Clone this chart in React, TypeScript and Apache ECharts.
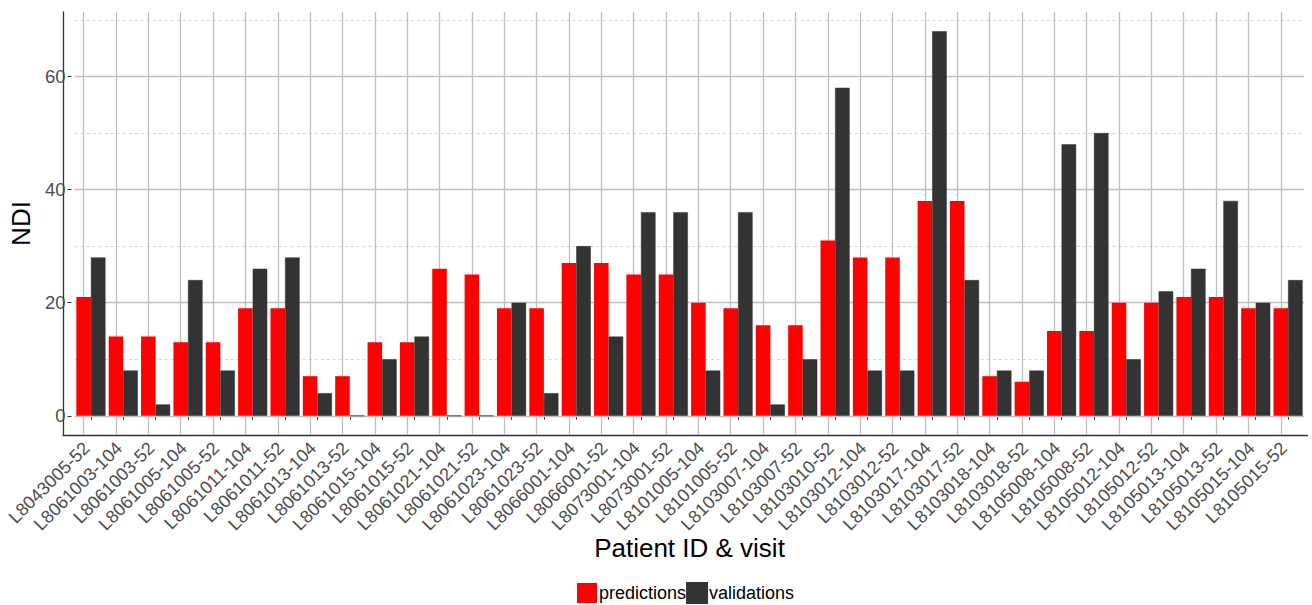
import React, { useEffect, useRef } from "react";
import * as echarts from "echarts";

const categories = [
  "L8043005-52", "L8061003-104", "L8061003-52", "L8061005-104", "L8061005-52",
  "L8061011-104", "L8061011-52", "L8061013-104", "L8061013-52", "L8061015-104",
  "L8061015-52", "L8061021-104", "L8061021-52", "L8061023-104", "L8061023-52",
  "L8066001-104", "L8066001-52", "L8073001-104", "L8073001-52", "L8101005-104",
  "L8101005-52", "L8103007-104", "L8103007-52", "L8103010-52", "L8103012-104",
  "L8103012-52", "L8103017-104", "L8103017-52", "L8103018-104", "L8103018-52",
  "L8105008-104", "L8105008-52", "L8105012-104", "L8105012-52", "L8105013-104",
  "L8105013-52", "L8105015-104", "L8105015-52",
];

const predictions = [
  21, 14, 14, 13, 13, 19, 19, 7, 7, 13,
  13, 26, 25, 19, 19, 27, 27, 25, 25, 20,
  19, 16, 16, 31, 28, 28, 38, 38, 7, 6,
  15, 15, 20, 20, 21, 21, 19, 19,
];

const validations = [
  28, 8, 2, 24, 8, 26, 28, 4, 0, 10,
  14, 0, 0, 20, 4, 30, 14, 36, 36, 8,
  36, 2, 10, 58, 8, 8, 68, 24, 8, 8,
  48, 50, 10, 22, 26, 38, 20, 24,
];

const majorYTicks = [0, 20, 40, 60];
const minorYTicks = [10, 30, 50, 70];
const yMin = -3.4;
const yMax = 71.4;

export default function App() {
  const ref = useRef<HTMLDivElement>(null);

  useEffect(() => {
    if (!ref.current) return;
    const chart = echarts.init(ref.current, null, { renderer: "svg" });
    const font = "'Liberation Sans', Arial, Helvetica, sans-serif";
    const W = 1312;
    const H = 605;
    const plotLeft = 63;
    const plotRight = 1307.5;
    const plotTop = 12;
    const plotBottom = 435;
    const band = (plotRight - plotLeft) / (categories.length + 0.2);
    const pad = band * 0.1;
    const majorColor = "#bfbfbf";
    const minorColor = "#d6d6d6";

    chart.setOption({
      animation: false,
      backgroundColor: "#ffffff",
      textStyle: { fontFamily: font },
      grid: [
        {
          left: plotLeft + pad,
          right: W - plotRight + pad,
          top: plotTop,
          bottom: H - plotBottom,
        },
        {
          left: plotLeft,
          right: W - plotRight,
          top: plotTop,
          bottom: H - plotBottom,
        },
      ],
      xAxis: [
        {
          type: "category",
          gridIndex: 0,
          data: categories,
          axisLine: { show: false },
          axisTick: {
            show: true,
            alignWithLabel: true,
            length: 4,
            lineStyle: { color: "#333333", width: 1 },
          },
          splitLine: { show: false },
          axisLabel: {
            interval: 0,
            rotate: 45,
            fontSize: 18,
            color: "#4d4d4d",
            margin: 6,
            padding: [0, 6, 0, 0],
            fontFamily: font,
          },
          name: "Patient ID & visit",
          nameLocation: "middle",
          nameGap: 100,
          nameMoveOverlap: false,
          nameTextStyle: { fontSize: 26, color: "#000000", fontFamily: font },
        },
        {
          type: "value",
          gridIndex: 1,
          min: 0,
          max: 1,
          axisLine: { show: true, lineStyle: { color: "#333333", width: 1.3 } },
          axisTick: { show: false },
          axisLabel: { show: false },
          splitLine: { show: false },
        },
      ],
      yAxis: [
        {
          type: "value",
          gridIndex: 0,
          min: yMin,
          max: yMax,
          splitNumber: 4,
          offset: pad,
          axisLine: { show: false },
          axisTick: {
            show: true,
            length: 4,
            customValues: majorYTicks,
            lineStyle: { color: "#333333", width: 1 },
          },
          axisLabel: {
            customValues: majorYTicks,
            fontSize: 18.5,
            color: "#4d4d4d",
            margin: 6,
            fontFamily: font,
          },
          splitLine: { show: false },
          name: "NDI",
          nameLocation: "middle",
          nameRotate: 90,
          nameGap: 36,
          nameTextStyle: { fontSize: 26, color: "#000000", fontFamily: font },
        },
        {
          type: "value",
          gridIndex: 1,
          min: 0,
          max: 1,
          axisLine: { show: true, lineStyle: { color: "#333333", width: 1.3 } },
          axisTick: { show: false },
          axisLabel: { show: false },
          splitLine: { show: false },
        },
      ],
      legend: {
        data: ["predictions", "validations"],
        left: 577,
        top: 582,
        padding: 0,
        itemGap: 0,
        itemWidth: 20,
        itemHeight: 20,
        icon: "rect",
        textStyle: {
          fontSize: 18,
          color: "#000000",
          fontFamily: font,
          padding: [0, 0, 0, -3],
        },
      },
      series: [
        {
          name: "predictions",
          type: "bar",
          xAxisIndex: 0,
          yAxisIndex: 0,
          data: predictions,
          barWidth: "45%",
          barGap: "0%",
          z: 2,
          itemStyle: { color: "#ff0000" },
          markLine: {
            silent: true,
            z: 1,
            symbol: ["none", "none"],
            label: { show: false },
            emphasis: { disabled: true },
            data: [
              ...minorYTicks.map((v) => ({
                yAxis: v,
                lineStyle: { color: minorColor, width: 1, type: [3, 3] },
              })),
              ...majorYTicks.map((v) => ({
                yAxis: v,
                lineStyle: { color: majorColor, width: 1.3, type: "solid" },
              })),
              ...categories.map((c) => ({
                xAxis: c,
                lineStyle: { color: majorColor, width: 1.3, type: "solid" },
              })),
            ],
          },
        },
        {
          name: "validations",
          type: "bar",
          xAxisIndex: 0,
          yAxisIndex: 0,
          data: validations,
          barWidth: "45%",
          barGap: "0%",
          z: 2,
          itemStyle: { color: "#333333", borderColor: "#333333", borderWidth: 0.5 },
        },
      ],
    });

    return () => {
      chart.dispose();
    };
  }, []);

  return (
    <div
      ref={ref}
      style={{ position: "fixed", left: 0, top: 0, width: 1312, height: 605 }}
    />
  );
}
